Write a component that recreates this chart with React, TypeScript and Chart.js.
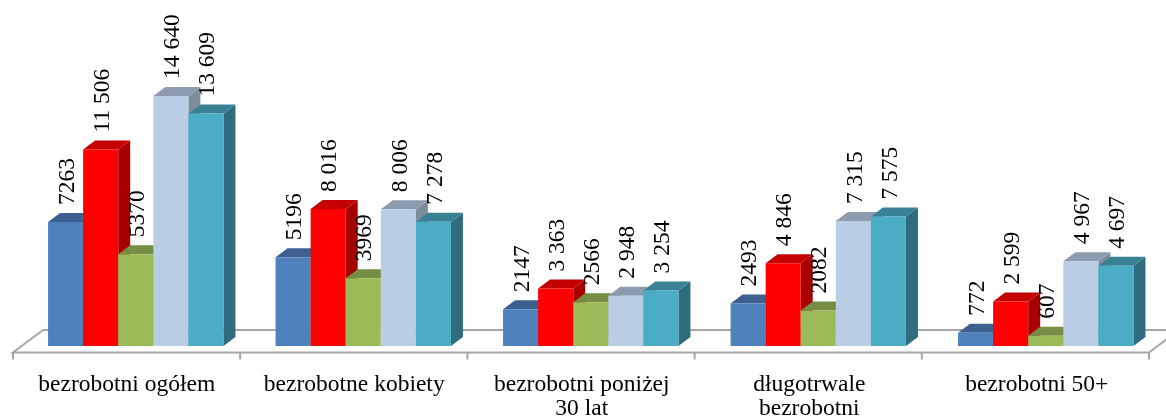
import React, { useEffect, useRef } from "react";
import { Chart, registerables } from "chart.js";

Chart.register(...registerables);

const categories: (string | string[])[] = [
  "bezrobotni ogółem",
  "bezrobotne kobiety",
  ["bezrobotni poniżej", "30 lat"],
  ["długotrwale", "bezrobotni"],
  "bezrobotni 50+",
];

const seriesA = [7263, 5196, 2147, 2493, 772];
const seriesB = [11506, 8016, 3363, 4846, 2599];
const seriesC = [5370, 3969, 2566, 2082, 607];
const seriesD = [14640, 8006, 2948, 7315, 4967];
const seriesE = [13609, 7278, 3254, 7575, 4697];

const frontColors = ["#4F81BD", "#FF0000", "#9BBB59", "#B9CDE5", "#4BACC6"];
const topColors = ["#3C6190", "#C40000", "#768E44", "#8C9CAE", "#398296"];
const sideColors = ["#345478", "#A80000", "#67793A", "#7E8C9C", "#2F6C7D"];
const spacedThousands = [false, true, false, true, true];

const DX = 12;
const DY = 9;
const SERIF = "'Liberation Serif', 'Times New Roman', serif";

const fmt = (v: number, spaced: boolean) => {
  if (!spaced || v < 1000) return String(v);
  const s = String(v);
  return s.slice(0, -3) + " " + s.slice(-3);
};

const floorPlugin = {
  id: "floor3d",
  beforeDatasetsDraw(chart: any) {
    const { ctx, scales } = chart;
    const x = scales.x;
    const floorWidth = x.right - x.left - 1.5;
    const step = floorWidth / categories.length;
    const frontLeft = x.left - 9;
    const frontRight = frontLeft + floorWidth;
    const yFront = x.top + 6.5;
    const yBack = x.top - 16;
    ctx.save();
    ctx.strokeStyle = "#A6A6A6";
    ctx.lineWidth = 2;
    ctx.beginPath();
    ctx.moveTo(frontLeft + 30, yBack);
    ctx.lineTo(chart.width + 20, yBack);
    ctx.moveTo(frontLeft + 30, yBack);
    ctx.lineTo(frontLeft, yFront);
    ctx.lineTo(frontRight, yFront);
    ctx.lineTo(frontRight + 30, yBack);
    for (let i = 0; i <= categories.length; i++) {
      const t = frontLeft + i * step;
      ctx.moveTo(t, yFront);
      ctx.lineTo(t, yFront + 7);
    }
    ctx.stroke();
    ctx.restore();

    // Painter's order: each series' side and top, then its front face.
    chart.data.datasets.forEach((_d: any, di: number) => {
      const meta = chart.getDatasetMeta(di);
      meta.data.forEach((el: any) => {
        const { x: cx, y, base, width } = el.getProps(["x", "y", "base", "width"], true);
        const l = cx - width / 2;
        const r = cx + width / 2;
        ctx.fillStyle = sideColors[di];
        ctx.beginPath();
        ctx.moveTo(r, y);
        ctx.lineTo(r + DX, y - DY);
        ctx.lineTo(r + DX, base - DY);
        ctx.lineTo(r, base);
        ctx.closePath();
        ctx.fill();
        ctx.fillStyle = topColors[di];
        ctx.beginPath();
        ctx.moveTo(l, y);
        ctx.lineTo(l + DX, y - DY);
        ctx.lineTo(r + DX, y - DY);
        ctx.lineTo(r, y);
        ctx.closePath();
        ctx.fill();
      });
      meta.controller.draw();
    });
    return false;
  },
  afterDraw(chart: any) {
    const { ctx } = chart;
    ctx.save();
    ctx.fillStyle = "#000";
    ctx.font = `23.5px ${SERIF}`;
    ctx.textAlign = "left";
    ctx.textBaseline = "middle";
    chart.data.datasets.forEach((d: any, di: number) => {
      chart.getDatasetMeta(di).data.forEach((el: any, i: number) => {
        const { x, y } = el.getProps(["x", "y"], true);
        ctx.save();
        ctx.translate(x + 2, y - 17);
        ctx.rotate(-Math.PI / 2);
        ctx.fillText(fmt(d.data[i], spacedThousands[di]), 0, 0);
        ctx.restore();
      });
    });
    ctx.restore();
  },
};

export default function App() {
  const ref = useRef<HTMLCanvasElement>(null);
  useEffect(() => {
    const chart = new Chart(ref.current as HTMLCanvasElement, {
      type: "bar",
      data: {
        labels: categories as any,
        datasets: [seriesA, seriesB, seriesC, seriesD, seriesE].map((data, i) => ({
          data,
          backgroundColor: frontColors[i],
          borderWidth: 0,
          categoryPercentage: 0.771,
          barPercentage: 1,
        })),
      },
      options: {
        responsive: false,
        animation: false,
        layout: { padding: { left: 22, right: 6.5, top: 72.7, bottom: 0 } },
        plugins: { legend: { display: false }, title: { display: false }, tooltip: { enabled: false } },
        scales: {
          x: {
            grid: { display: false },
            border: { display: false },
            afterFit: (s: any) => {
              s.height = 72;
            },
            ticks: {
              color: "#000",
              font: { family: SERIF, size: 23.5, lineHeight: 1.02 },
              maxRotation: 0,
              autoSkip: false,
              padding: 19,
              labelOffset: -9,
            },
          },
          y: { display: false, min: 0, max: 16000 },
        },
      } as any,
      plugins: [floorPlugin as any],
    });
    return () => chart.destroy();
  }, []);
  return (
    <div style={{ position: "fixed", left: 0, top: 0, width: 1166, height: 418, background: "#fff" }}>
      <canvas ref={ref} width={1166} height={418} style={{ display: "block" }} />
    </div>
  );
}
